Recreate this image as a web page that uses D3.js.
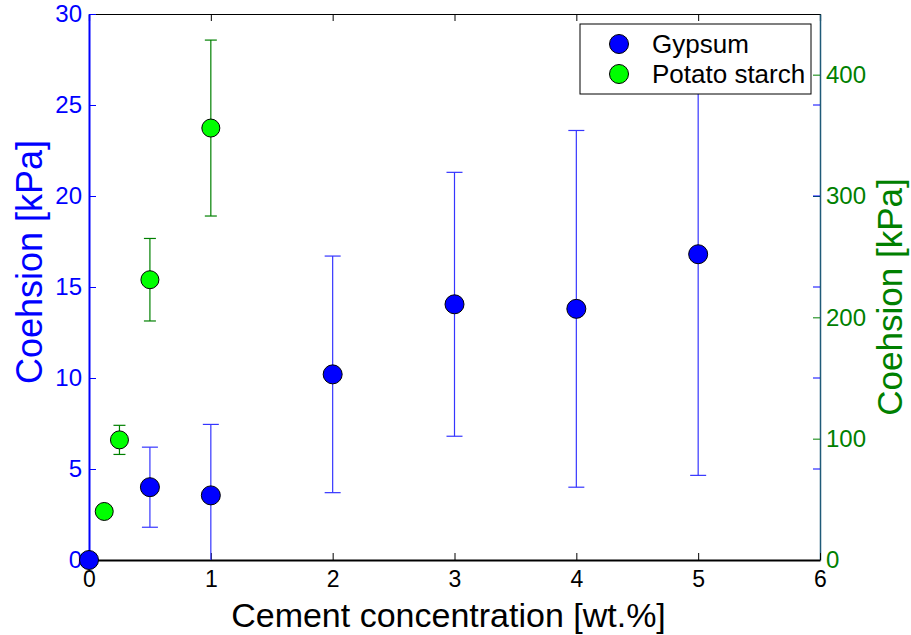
<!DOCTYPE html>
<html>
<head>
<meta charset="utf-8">
<script src="https://cdn.jsdelivr.net/npm/d3@7"></script>
<style>
  body { margin: 0; background: #fff; }
  text { font-family: "Liberation Sans", Arial, sans-serif; }
</style>
</head>
<body>
<svg id="chart" width="911" height="635"></svg>
<script>
// gypsum series (left axis, kPa)
const gypsumX = [0, 0.5, 1, 2, 3, 4, 5];
const gypsumY = [0, 4.0, 3.55, 10.2, 14.05, 13.8, 16.8];
const gypsumErr = [0, 2.2, 3.9, 6.5, 7.25, 9.8, 12.15];

// potato starch series (right axis, kPa)
const starchX = [0.125, 0.25, 0.5, 1];
const starchY = [40, 99, 231, 356];
const starchErr = [4, 12, 34, 72.5];

const xTicks = [0, 1, 2, 3, 4, 5, 6];
const leftTicks = [0, 5, 10, 15, 20, 25, 30];
const rightTicks = [0, 100, 200, 300, 400];

const svg = d3.select("#chart");
const mLeft = 89, mRight = 820, mTop = 14, mBottom = 560;

const x = d3.scaleLinear().domain([0, 6]).range([mLeft, mRight]);
const yL = d3.scaleLinear().domain([0, 30]).range([mBottom, mTop]);
const yR = d3.scaleLinear().domain([0, 450]).range([mBottom, mTop]);

const blue = "#0000ff", green = "#008000";
const font = "Liberation Sans, Arial, sans-serif";

svg.append("clipPath").attr("id", "plotClip")
  .append("rect")
  .attr("x", mLeft).attr("y", mTop)
  .attr("width", mRight - mLeft).attr("height", mBottom - mTop);

// top border with mirrored x ticks
const topAxis = svg.append("g")
  .attr("transform", `translate(0,${mTop})`)
  .call(d3.axisTop(x).tickValues(xTicks).tickSize(-7).tickFormat(""));
topAxis.select(".domain").attr("stroke", "#000").attr("stroke-width", 1.2);
topAxis.selectAll("line").attr("stroke", "#000");

// right axis (starch)
const rightAxis = svg.append("g")
  .attr("transform", `translate(${mRight},0)`)
  .call(d3.axisRight(yR).tickValues(rightTicks).tickSize(-7).tickPadding(6).tickSizeOuter(0));
rightAxis.select(".domain").attr("stroke", "#1f5a78").attr("stroke-width", 1.5);
rightAxis.selectAll("line").attr("stroke", green);
rightAxis.selectAll("text").attr("fill", green).attr("font-size", 24).attr("font-family", font);

// mirrored left ticks on the right side
svg.append("g").selectAll("line")
  .data(leftTicks.slice(1, -1))
  .enter().append("line")
  .attr("x1", mRight - 7).attr("x2", mRight)
  .attr("y1", d => yL(d)).attr("y2", d => yL(d))
  .attr("stroke", blue);

// bottom axis
const bottomAxis = svg.append("g")
  .attr("transform", `translate(0,${mBottom})`)
  .call(d3.axisBottom(x).tickValues(xTicks).tickSize(-7).tickPadding(11)
    .tickSizeOuter(0).tickFormat(d3.format("d")));
bottomAxis.select(".domain").attr("stroke", "#000").attr("stroke-width", 2);
bottomAxis.selectAll("line").attr("stroke", "#000");
bottomAxis.selectAll("text").attr("fill", "#000").attr("font-size", 23).attr("font-family", font);

// left axis (gypsum)
const leftAxis = svg.append("g")
  .attr("transform", `translate(${mLeft},0)`)
  .call(d3.axisLeft(yL).tickValues(leftTicks).tickSize(-7).tickPadding(7).tickSizeOuter(0));
leftAxis.select(".domain").attr("stroke", blue).attr("stroke-width", 2);
leftAxis.selectAll("line").attr("stroke", blue);
leftAxis.selectAll("text").attr("fill", blue).attr("font-size", 24).attr("font-family", font);

const plot = svg.append("g").attr("clip-path", "url(#plotClip)");

const gypsum = gypsumX.map((d, i) => ({ x: d, y: gypsumY[i], e: gypsumErr[i] }));
const starch = starchX.map((d, i) => ({ x: d, y: starchY[i], e: starchErr[i] }));

function errorBars(g, data, yScale, color, cap) {
  const bars = g.append("g").selectAll("g")
    .data(data.filter(d => d.e > 0))
    .enter().append("g")
    .attr("stroke", color).attr("stroke-width", 1.2);
  bars.append("line")
    .attr("x1", d => x(d.x)).attr("x2", d => x(d.x))
    .attr("y1", d => yScale(d.y - d.e)).attr("y2", d => yScale(d.y + d.e));
  bars.append("line")
    .attr("x1", d => x(d.x) - cap).attr("x2", d => x(d.x) + cap)
    .attr("y1", d => yScale(d.y - d.e)).attr("y2", d => yScale(d.y - d.e));
  bars.append("line")
    .attr("x1", d => x(d.x) - cap).attr("x2", d => x(d.x) + cap)
    .attr("y1", d => yScale(d.y + d.e)).attr("y2", d => yScale(d.y + d.e));
}

errorBars(plot, gypsum, yL, "#3535ff", 8);

svg.append("g").selectAll("circle")
  .data(gypsum)
  .enter().append("circle")
  .attr("cx", d => x(d.x)).attr("cy", d => yL(d.y))
  .attr("r", 9.5)
  .attr("fill", blue).attr("stroke", "#000").attr("stroke-width", 1);

svg.append("g").selectAll("circle")
  .data(starch)
  .enter().append("circle")
  .attr("cx", d => x(d.x)).attr("cy", d => yR(d.y))
  .attr("r", 9)
  .attr("fill", "#00ff00").attr("stroke", "#000").attr("stroke-width", 1);

errorBars(plot, starch, yR, green, 6);

// axis labels
svg.append("text")
  .attr("x", (mLeft + mRight) / 2 - 6).attr("y", 627)
  .attr("text-anchor", "middle")
  .attr("font-size", 34).attr("fill", "#000")
  .text("Cement concentration [wt.%]");

svg.append("text")
  .attr("transform", "translate(42,262) rotate(-90)")
  .attr("text-anchor", "middle")
  .attr("font-size", 36).attr("fill", blue)
  .text("Coehsion [kPa]");

svg.append("text")
  .attr("transform", "translate(902,297) rotate(-90)")
  .attr("text-anchor", "middle")
  .attr("font-size", 35).attr("fill", green)
  .text("Coehsion [kPa]");

// legend
const legend = svg.append("g").attr("transform", "translate(580,24)");
legend.append("rect")
  .attr("width", 231).attr("height", 70)
  .attr("fill", "#fff").attr("stroke", "#000").attr("stroke-width", 1);
const legendItems = [
  { name: "Gypsum", fill: blue },
  { name: "Potato starch", fill: "#00ff00" }
];
const li = legend.selectAll(".item")
  .data(legendItems)
  .enter().append("g")
  .attr("transform", (d, i) => `translate(0,${20 + i * 30})`);
li.append("circle")
  .attr("cx", 39).attr("cy", 0).attr("r", 9.5)
  .attr("fill", d => d.fill).attr("stroke", "#000");
li.append("text")
  .attr("x", 72).attr("y", 9)
  .attr("font-size", 26).attr("fill", "#000")
  .text(d => d.name);
</script>
</body>
</html>
